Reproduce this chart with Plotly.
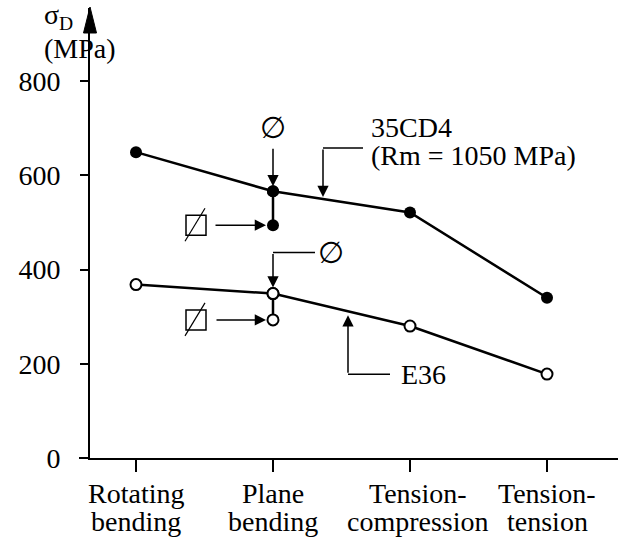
import numpy as np
import plotly.graph_objects as go

# ---- data ----
cat_line1 = ["Rotating", "Plane", "Tension-", "Tension-"]
cat_line2 = ["bending", "bending", "compression", "tension"]
cat_x = [0, 1, 2, 3]
cd4_vals = [649, 566, 521, 340]       # 35CD4, round specimens
cd4_square = 494                      # 35CD4, square specimen, plane bending
e36_vals = [368, 349, 280, 178]       # E36, round specimens
e36_square = 293                      # E36, square specimen, plane bending
y_ticks = [0, 200, 400, 600, 800]

# ---- geometry ----
W, H = 618, 537
L, R, T, B = 90, 0, 8, 79
PX_X = 137.0
PX_Y = 0.47125
plot_w = W - L - R
plot_h = H - T - B
x_lo = -46 / PX_X
x_hi = x_lo + plot_w / PX_X
y_hi = plot_h / PX_Y

FONT = "Times New Roman"
fs = 28
BLK = "black"

fig = go.Figure()

# connectors to square-specimen points
fig.add_trace(go.Scatter(x=[cat_x[1], cat_x[1]], y=[cd4_vals[1], cd4_square], mode="lines+markers",
                         line=dict(color=BLK, width=2.5),
                         marker=dict(size=12, color=BLK), showlegend=False, hoverinfo="skip"))
fig.add_trace(go.Scatter(x=[cat_x[1], cat_x[1]], y=[e36_vals[1], e36_square], mode="lines+markers",
                         line=dict(color=BLK, width=2.5),
                         marker=dict(size=11, color="white", line=dict(color=BLK, width=2)),
                         showlegend=False, hoverinfo="skip"))
# main series
fig.add_trace(go.Scatter(x=cat_x, y=cd4_vals, mode="lines+markers", name="35CD4",
                         line=dict(color=BLK, width=2.5),
                         marker=dict(size=12, color=BLK), showlegend=False, hoverinfo="skip"))
fig.add_trace(go.Scatter(x=cat_x, y=e36_vals, mode="lines+markers", name="E36",
                         line=dict(color=BLK, width=2.5),
                         marker=dict(size=11, color="white", line=dict(color=BLK, width=2)),
                         showlegend=False, hoverinfo="skip"))

shapes = []
annotations = []

def seg(xa, ya, x0, y0, x1, y1, w=1.5):
    shapes.append(dict(type="line", xref="x", yref="y",
                       x0=xa + x0 / PX_X, y0=ya + y0 / PX_Y,
                       x1=xa + x1 / PX_X, y1=ya + y1 / PX_Y,
                       line=dict(color=BLK, width=w)))

def arrow(xa, ya, ax, ay, standoff):
    annotations.append(dict(x=xa, y=ya, xref="x", yref="y", text="", showarrow=True,
                            ax=ax, ay=ay, axref="pixel", ayref="pixel",
                            arrowhead=2, arrowsize=1.5, arrowwidth=1.5, arrowcolor=BLK,
                            standoff=standoff))

def text(xa, ya, s, xs, ys, xanchor="center", size=fs, family=FONT):
    annotations.append(dict(x=xa, y=ya, xref="x", yref="y", text=s, showarrow=False,
                            xshift=xs, yshift=ys, xanchor=xanchor, yanchor="middle",
                            font=dict(family=family, size=size, color=BLK)))

def square_symbol(xa, ya):
    shapes.append(dict(type="rect", xref="x", yref="y",
                       x0=xa - 87 / PX_X, x1=xa - 67 / PX_X,
                       y0=ya - 10 / PX_Y, y1=ya + 10 / PX_Y,
                       line=dict(color=BLK, width=1.5), fillcolor="rgba(0,0,0,0)"))
    seg(xa, ya, -88, -16, -68, 17, w=1.2)

# ---- 35CD4 annotations ----
text(cat_x[1], cd4_vals[1], "∅", 0, 64, size=30, family="DejaVu Sans")
arrow(cat_x[1], cd4_vals[1], 0, -44, 5)
square_symbol(cat_x[1], cd4_square)
arrow(cat_x[1], cd4_square, -59, 0, 7)
xa = cat_x[1] + 50 / PX_X
ya = float(np.interp(xa, cat_x, cd4_vals))
arrow(xa, ya, 0, -51, 2)
seg(xa, ya, 0, 51, 40, 51)
text(xa, ya, "35CD4", 46, 72, xanchor="left")
text(xa, ya, "(Rm = 1050 MPa)", 46, 44, xanchor="left")

# ---- E36 annotations ----
text(cat_x[1], e36_vals[1], "∅", 58, 41, size=30, family="DejaVu Sans")
arrow(cat_x[1], e36_vals[1], 0, -41, 6)
seg(cat_x[1], e36_vals[1], 0, 41, 42, 41)
square_symbol(cat_x[1], e36_square)
arrow(cat_x[1], e36_square, -58, 0, 7)
xb = cat_x[1] + 75 / PX_X
yb = float(np.interp(xb, cat_x, e36_vals))
arrow(xb, yb, 0, 63, 4)
seg(xb, yb, 0, -63, 42, -63)
text(xb, yb, "E36", 51, -63, xanchor="left")

# ---- category labels ----
xsh = [0, 0, 8, 0]
for i, (a, b) in enumerate(zip(cat_line1, cat_line2)):
    annotations.append(dict(x=cat_x[i], y=0, xref="x", yref="paper", text=a, showarrow=False,
                            xshift=xsh[i], yshift=-35, yanchor="middle",
                            font=dict(family=FONT, size=fs, color=BLK)))
    annotations.append(dict(x=cat_x[i], y=0, xref="x", yref="paper", text=b, showarrow=False,
                            xshift=xsh[i], yshift=-63, yanchor="middle",
                            font=dict(family=FONT, size=fs, color=BLK)))

# ---- y title ----
annotations.append(dict(x=0, y=1, xref="paper", yref="paper", text="σ<sub>D</sub>", showarrow=False,
                        xshift=-48, yshift=-8, yanchor="middle",
                        font=dict(family=FONT, size=fs, color=BLK)))
annotations.append(dict(x=0, y=1, xref="paper", yref="paper", text="(MPa)", showarrow=False,
                        xshift=-48, yshift=-40, yanchor="middle",
                        font=dict(family=FONT, size=fs, color=BLK)))

# y-axis arrow head (paper coordinates)
hx = 6.5 / plot_w
tip = 1 + 1 / plot_h
base = 1 - 25 / plot_h
shapes.append(dict(type="path", xref="paper", yref="paper",
                   path=f"M {-hx},{base} L 0,{tip} L {hx},{base} Z",
                   fillcolor=BLK, line=dict(color=BLK, width=1)))
# x-axis extension to the left of the y-axis
shapes.append(dict(type="line", xref="paper", yref="paper", x0=-11 / plot_w, x1=0, y0=0, y1=0,
                   line=dict(color=BLK, width=2)))

fig.update_layout(
    width=W, height=H,
    margin=dict(l=L, r=R, t=T, b=B),
    plot_bgcolor="white", paper_bgcolor="white",
    showlegend=False,
    font=dict(family=FONT, size=fs, color=BLK),
    shapes=shapes, annotations=annotations,
    xaxis=dict(range=[x_lo, x_hi], showgrid=False, zeroline=False, showline=True,
               linecolor=BLK, linewidth=2, ticks="outside", ticklen=12, tickwidth=1.5,
               tickcolor=BLK, tickvals=cat_x, showticklabels=False),
    yaxis=dict(range=[0, y_hi], showgrid=False, zeroline=False, showline=True,
               linecolor=BLK, linewidth=2, ticks="outside", ticklen=8, tickwidth=2,
               tickcolor=BLK, tickvals=y_ticks, ticktext=[str(v) + "\u2002" for v in y_ticks],
               tickfont=dict(family=FONT, size=fs, color=BLK)),
)

fig.write_html("out.html")
